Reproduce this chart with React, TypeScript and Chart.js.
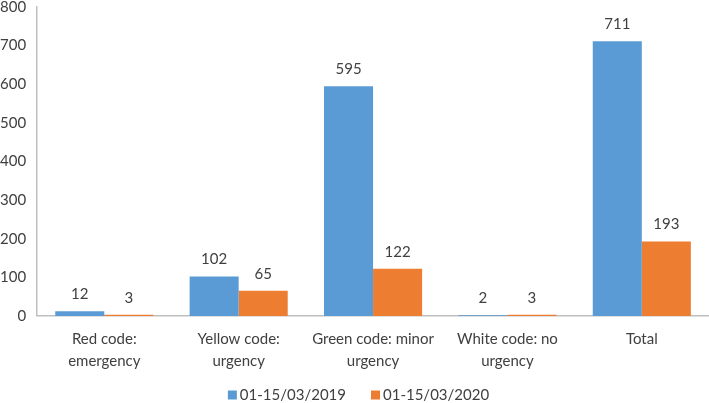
import React, { useEffect, useRef } from "react";
import { Chart, registerables } from "chart.js";

Chart.register(...registerables);

const categories: string[][] = [
  ["Red code:", "emergency"],
  ["Yellow code:", "urgency"],
  ["Green code: minor", "urgency"],
  ["White code: no", "urgency"],
  ["Total"],
];
const series2019Label = "01-15/03/2019";
const series2020Label = "01-15/03/2020";
const values2019 = [12, 102, 595, 2, 711];
const values2020 = [3, 65, 122, 3, 193];
const yTicks = [0, 100, 200, 300, 400, 500, 600, 700, 800];

const FONT = "Lato, 'Open Sans', sans-serif";
const TEXT = "#404040";

const valueLabels = {
  id: "valueLabels",
  afterDatasetsDraw(chart: any) {
    const ctx = chart.ctx;
    ctx.save();
    ctx.font = `15px ${FONT}`;
    ctx.fillStyle = TEXT;
    ctx.textAlign = "center";
    ctx.textBaseline = "middle";
    chart.data.datasets.forEach((ds: any, i: number) => {
      const meta = chart.getDatasetMeta(i);
      meta.data.forEach((bar: any, j: number) => {
        ctx.fillText(String(ds.data[j]), bar.x, bar.y - 17);
      });
    });
    ctx.restore();
  },
};

const bottomLegend = {
  id: "bottomLegend",
  afterDraw(chart: any) {
    const ctx = chart.ctx;
    const box = 9;
    const boxGap = 3;
    const itemGap = 25;
    ctx.save();
    ctx.font = `15px ${FONT}`;
    ctx.textBaseline = "middle";
    ctx.textAlign = "left";
    const items = chart.data.datasets.map((ds: any) => ({
      text: ds.label,
      color: ds.backgroundColor,
      w: box + boxGap + ctx.measureText(ds.label).width,
    }));
    const total = items.reduce((s: number, it: any) => s + it.w, 0) + itemGap * (items.length - 1);
    let x = chart.width / 2 + 4 - total / 2;
    const y = chart.height - 8;
    items.forEach((it: any) => {
      ctx.fillStyle = it.color;
      ctx.fillRect(x, y - box / 2, box, box);
      ctx.fillStyle = TEXT;
      ctx.fillText(it.text, x + box + boxGap, y);
      x += it.w + itemGap;
    });
    ctx.restore();
  },
};

export default function App() {
  const ref = useRef<HTMLCanvasElement | null>(null);
  useEffect(() => {
    if (!ref.current) return;
    const chart = new Chart(ref.current, {
      type: "bar",
      data: {
        labels: categories,
        datasets: [
          {
            label: series2019Label,
            data: values2019,
            backgroundColor: "#5B9BD5",
            categoryPercentage: 0.73,
            barPercentage: 1.0,
          },
          {
            label: series2020Label,
            data: values2020,
            backgroundColor: "#ED7D31",
            categoryPercentage: 0.73,
            barPercentage: 1.0,
          },
        ],
      },
      options: {
        animation: false,
        responsive: false,
        maintainAspectRatio: false,
        layout: { padding: { top: 7, right: 0, left: 0, bottom: 19 } },
        plugins: {
          legend: { display: false },
          tooltip: { enabled: false },
        },
        scales: {
          x: {
            afterFit: (scale: any) => {
              scale.paddingLeft = 0;
              scale.paddingRight = 0;
            },
            grid: { display: false, drawTicks: false },
            border: { display: true, color: "#BFBFBF", width: 1.5 },
            ticks: {
              color: TEXT,
              font: { size: 15, family: FONT, lineHeight: 1.47 },
              padding: 12,
              maxRotation: 0,
              autoSkip: false,
            },
          },
          y: {
            min: 0,
            max: 800,
            afterBuildTicks: (axis: any) => {
              axis.ticks = yTicks.map((v) => ({ value: v }));
            },
            afterFit: (scale: any) => {
              scale.paddingTop = 0;
              scale.paddingBottom = 0;
              scale.width = scale.width - 11;
            },
            grid: { display: false, drawTicks: false },
            border: { display: true, color: "#BFBFBF", width: 1.5 },
            ticks: {
              color: TEXT,
              font: { size: 15, family: FONT },
              padding: 11,
            },
          },
        },
      },
      plugins: [valueLabels, bottomLegend],
    });
    return () => chart.destroy();
  }, []);
  return (
    <div style={{ position: "absolute", left: 0, top: 0, width: 709, height: 403, background: "#fff" }}>
      <canvas ref={ref} width={709} height={403} />
    </div>
  );
}
